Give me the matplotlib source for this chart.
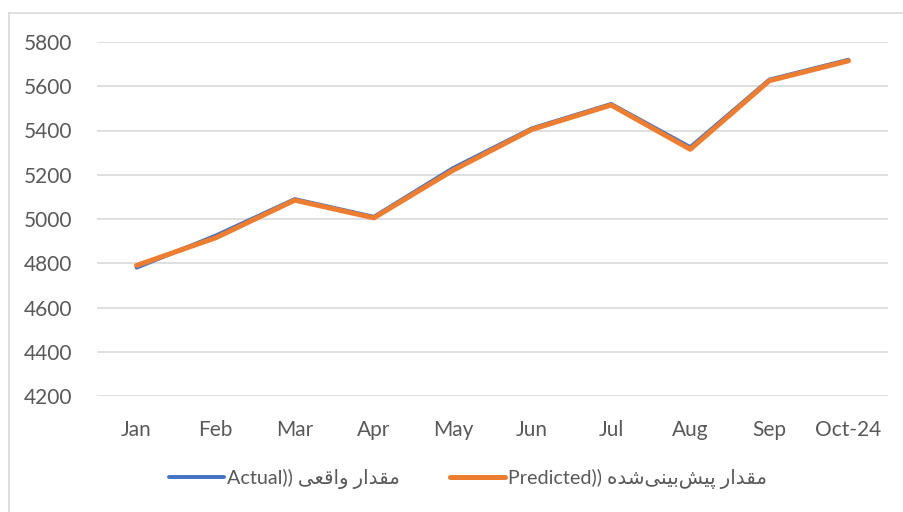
import matplotlib
matplotlib.use("Agg")
import matplotlib.pyplot as plt
from matplotlib.lines import Line2D

categories = ["Jan", "Feb", "Mar", "Apr", "May", "Jun", "Jul", "Aug", "Sep", "Oct-24"]
actual = [4780, 4925, 5090, 5010, 5230, 5410, 5520, 5325, 5630, 5720]
predicted = [4790, 4915, 5085, 5005, 5220, 5405, 5515, 5315, 5625, 5715]
yticks = [4200, 4400, 4600, 4800, 5000, 5200, 5400, 5600, 5800]

# Persian labels: "مقدار واقعی (Actual)" and "مقدار پیش‌بینی‌شده (Predicted)"
# written with presentation forms in visual (left-to-right) order
fa_actual = "\uFEF0\uFECC\uFED7\uFE8D\uFEED \uFEAD\uFE8D\uFEAA\uFED8\uFEE3"
fa_pred = ("\uFEE9\uFEAA\uFEB7" + "\uFEF0\uFEE8\uFEF4\uFE91" + "\uFEB6\uFEF4\uFB58"
           + " \uFEAD\uFE8D\uFEAA\uFED8\uFEE3")
label_actual = "Actual)) " + fa_actual
label_pred = "Predicted)) " + fa_pred

plt.rcParams['font.family'] = ['Lato', 'DejaVu Sans']
text_color = "#595959"
grid_color = "#D9D9D9"

fig = plt.figure(figsize=(9.04, 5.12), dpi=100)
ax = fig.add_axes([97/904, 1-396/512, (888-97)/904, (396-42)/512])

x = list(range(len(categories)))
ax.plot(x, actual, color="#4472C4", lw=2.8, solid_capstyle="round", label=label_actual, zorder=3)
ax.plot(x, predicted, color="#ED7D31", lw=3.6, solid_capstyle="round", label=label_pred, zorder=4)

ax.set_xlim(-0.5, len(categories) - 0.5)
ax.set_ylim(4200, 5800)
ax.set_yticks(yticks)
ax.set_yticklabels([str(v) for v in yticks])
ax.set_xticks(x)
ax.set_xticklabels(categories)
ax.yaxis.grid(True, color=grid_color, lw=1.2)
ax.set_axisbelow(True)
for s in ax.spines.values():
    s.set_visible(False)
ax.tick_params(axis='both', length=0, colors=text_color, labelsize=15)
ax.tick_params(axis='y', pad=18)
ax.tick_params(axis='x', pad=17)

# chart-area border
fig.add_artist(Line2D([8.5/904, 8.5/904], [0, 1-13/512], transform=fig.transFigure, color=grid_color, lw=1.2))
fig.add_artist(Line2D([8.5/904, 1], [1-13/512, 1-13/512], transform=fig.transFigure, color=grid_color, lw=1.2))

leg = fig.legend(loc="center", bbox_to_anchor=(468/904, 1-479/512), ncol=2, frameon=False,
                 fontsize=14.2, handlelength=2.8, handletextpad=0.15, columnspacing=2.5)
for t in leg.get_texts():
    t.set_color(text_color)

fig.savefig("out.png", dpi=100)
